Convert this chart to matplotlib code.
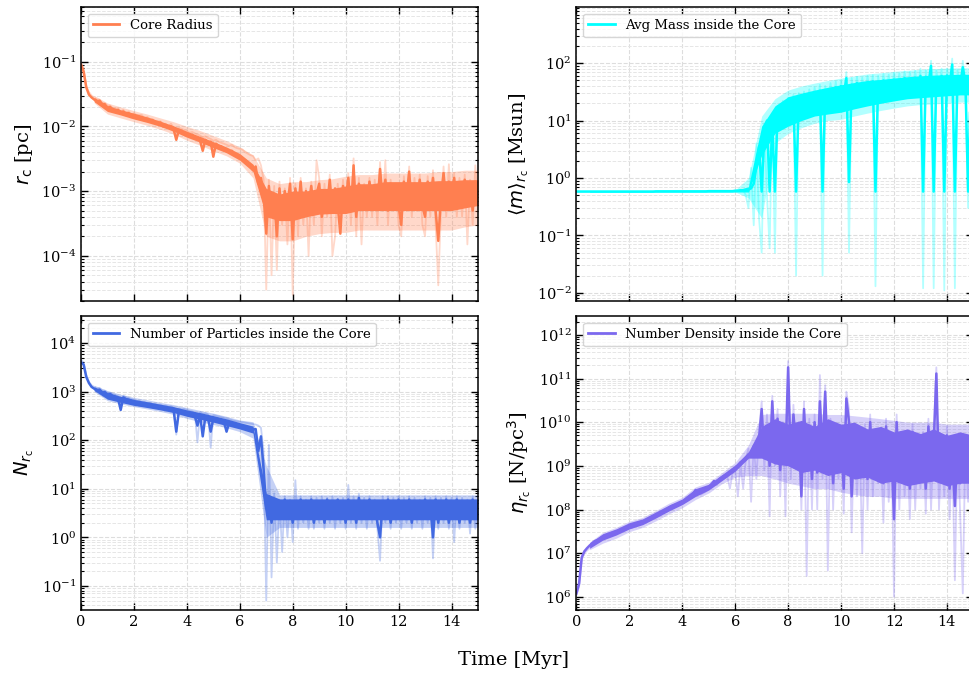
import numpy as np
import matplotlib
matplotlib.use("Agg")
import matplotlib.pyplot as plt

# time grid of the snapshots (Myr)
time = np.linspace(0, 15, 151)
# coarser grid for the spread (envelope) of the noisy band
env_time = np.linspace(0.5, 15, 30)

# core radius [pc] - thick line and faint raw line
rc_main = [
    0.090, 0.070, 0.040, 0.031, 0.028, 0.026, 0.024, 0.025, 0.022, 0.022,
    0.019, 0.020, 0.018, 0.017, 0.018, 0.016, 0.017, 0.015, 0.016, 0.014,
    0.015, 0.0135, 0.014, 0.013, 0.0125, 0.013, 0.012, 0.0125, 0.0115, 0.011,
    0.0115, 0.010, 0.0105, 0.0095, 0.010, 0.009, 0.0062, 0.0088, 0.0085, 0.0080,
    0.0078, 0.0071, 0.0074, 0.0068, 0.0066, 0.0060, 0.0042, 0.0062, 0.0056, 0.0058,
    0.0034, 0.0054, 0.0050, 0.0049, 0.0045, 0.0043, 0.0040, 0.0042, 0.0037, 0.0036,
    0.0034, 0.0032, 0.0030, 0.0028, 0.0025, 0.0021, 0.0024, 0.0013, 0.0016, 0.0009,
    0.00022, 0.0012, 0.0004, 0.0009, 0.0002, 0.0011, 0.0004, 0.0010, 0.0006, 0.0013,
    0.00018, 0.0011, 0.0005, 0.0014, 0.0004, 0.0010, 0.0006, 0.0012, 0.0005, 0.0009,
    0.0013, 0.0004, 0.0010, 0.0006, 0.0015, 0.0005, 0.0011, 0.0006, 0.00022, 0.0012,
    0.0007, 0.0016, 0.0005, 0.0025, 0.0004, 0.0013, 0.0007, 0.0011, 0.0006, 0.0014,
    0.0007, 0.0012, 0.0006, 0.0022, 0.0007, 0.0015, 0.0005, 0.0013, 0.0008, 0.0011,
    0.0006, 0.0003, 0.0014, 0.0008, 0.0020, 0.0006, 0.0013, 0.0007, 0.0015, 0.0006,
    0.0004, 0.0014, 0.0007, 0.0016, 0.0005, 0.00017, 0.0008, 0.0019, 0.0006, 0.0014,
    0.0008, 0.0016, 0.0006, 0.0013, 0.0007, 0.0015, 0.0009, 0.0012, 0.0005, 0.0014,
    0.0009,
]
rc_raw = [
    0.095, 0.080, 0.042, 0.034, 0.030, 0.028, 0.026, 0.026, 0.023, 0.023,
    0.021, 0.021, 0.019, 0.019, 0.019, 0.017, 0.018, 0.016, 0.017, 0.015,
    0.016, 0.015, 0.015, 0.015, 0.013, 0.014, 0.013, 0.013, 0.012, 0.012,
    0.012, 0.011, 0.011, 0.010, 0.011, 0.0095, 0.0090, 0.0095, 0.0092, 0.0088,
    0.0085, 0.0080, 0.0082, 0.0078, 0.0075, 0.0072, 0.0068, 0.0070, 0.0066, 0.0064,
    0.0060, 0.0062, 0.0058, 0.0056, 0.0054, 0.0052, 0.0050, 0.0052, 0.0048, 0.0046,
    0.0045, 0.0044, 0.0040, 0.0038, 0.0036, 0.0035, 0.0030, 0.0032, 0.0025, 0.0015,
    0.00003, 0.0015, 0.00005, 0.0012, 0.00006, 0.0014, 0.0003, 0.0011, 0.00015, 0.0016,
    0.000025, 0.0013, 0.0002, 0.0016, 0.0003, 0.0011, 0.0001, 0.0014, 0.0003, 0.0030,
    0.0016, 0.0002, 0.0013, 0.0004, 0.0018, 0.0001, 0.0002, 0.0013, 0.0004, 0.0015,
    0.0005, 0.0019, 0.0003, 0.0032, 0.0002, 0.0016, 0.00015, 0.0013, 0.0004, 0.0016,
    0.0004, 0.0015, 0.0003, 0.0028, 0.0005, 0.0030, 0.0003, 0.0015, 0.0005, 0.0013,
    0.0003, 0.0002, 0.0017, 0.0005, 0.0024, 0.0004, 0.0016, 0.0005, 0.0018, 0.0003,
    0.0002, 0.0017, 0.0004, 0.0021, 0.0003, 0.000035, 0.0005, 0.0024, 0.0004, 0.0026,
    0.0005, 0.0019, 0.0004, 0.0016, 0.0004, 0.0018, 0.00015, 0.0015, 0.0003, 0.0025,
    0.0006,
]
rc_lo = [0.024, 0.017, 0.015, 0.013, 0.0115, 0.010, 0.0084, 0.0068, 0.0057, 0.0047,
         0.0039, 0.0030, 0.0020, 4e-4, 3.5e-4, 3.5e-4, 4e-4, 4.4e-4, 4.5e-4, 4.5e-4,
         5e-4, 5e-4, 5e-4, 5e-4, 5e-4, 5e-4, 5e-4, 5e-4, 5.5e-4, 6e-4]
rc_hi = [0.028, 0.021, 0.018, 0.016, 0.014, 0.012, 0.0102, 0.0084, 0.0070, 0.0058,
         0.0048, 0.0038, 0.0026, 1.1e-3, 9e-4, 1.0e-3, 1.0e-3, 1.1e-3, 1.1e-3, 1.2e-3,
         1.3e-3, 1.3e-3, 1.4e-3, 1.4e-3, 1.4e-3, 1.4e-3, 1.45e-3, 1.45e-3, 1.5e-3, 1.5e-3]
rc_raw_lo = [0.023, 0.0155, 0.0135, 0.0118, 0.0104, 0.0090, 0.0076, 0.0061, 0.0051, 0.0042,
             0.0035, 0.0027, 0.0016, 2e-4, 1.7e-4, 1.7e-4, 2e-4, 2.2e-4, 2.3e-4, 2.3e-4,
             2.5e-4, 2.5e-4, 2.5e-4, 2.5e-4, 2.5e-4, 2.5e-4, 2.5e-4, 2.5e-4, 2.8e-4, 3e-4]
rc_raw_hi = [0.030, 0.023, 0.020, 0.0175, 0.0155, 0.0135, 0.0118, 0.0100, 0.0086, 0.0072,
             0.0060, 0.0048, 0.0036, 1.6e-3, 1.3e-3, 1.4e-3, 1.4e-3, 1.5e-3, 1.55e-3, 1.7e-3,
             1.8e-3, 1.8e-3, 1.9e-3, 1.9e-3, 1.9e-3, 1.9e-3, 2.0e-3, 2.0e-3, 2.1e-3, 2.1e-3]

# average mass inside the core [Msun]
mass_main = [
    0.58, 0.58, 0.58, 0.58, 0.58, 0.58, 0.58, 0.58, 0.58, 0.58,
    0.58, 0.58, 0.58, 0.58, 0.58, 0.58, 0.58, 0.58, 0.58, 0.58,
    0.58, 0.58, 0.58, 0.58, 0.58, 0.58, 0.58, 0.58, 0.58, 0.58,
    0.585, 0.585, 0.585, 0.585, 0.585, 0.585, 0.585, 0.585, 0.585, 0.585,
    0.585, 0.585, 0.585, 0.585, 0.585, 0.585, 0.585, 0.585, 0.585, 0.585,
    0.59, 0.59, 0.59, 0.59, 0.59, 0.59, 0.59, 0.59, 0.59, 0.59,
    0.60, 0.60, 0.61, 0.61, 0.62, 0.63, 0.66, 0.80, 1.6, 3.5,
    0.58, 6.0, 10.0, 0.58, 9.0, 0.58, 14.0, 11.0, 17.0, 13.0,
    19.0, 15.0, 22.0, 0.58, 23.0, 17.0, 25.0, 19.0, 27.0, 21.0,
    29.0, 22.0, 33.0, 0.58, 30.0, 24.0, 35.0, 26.0, 38.0, 27.0,
    40.0, 28.0, 55.0, 0.85, 42.0, 30.0, 45.0, 31.0, 44.0, 33.0,
    46.0, 33.0, 48.0, 0.58, 47.0, 35.0, 50.0, 36.0, 49.0, 37.0,
    52.0, 38.0, 50.0, 40.0, 55.0, 39.0, 53.0, 41.0, 56.0, 42.0,
    60.0, 0.58, 58.0, 43.0, 90.0, 0.58, 57.0, 44.0, 60.0, 0.58,
    61.0, 42.0, 95.0, 0.58, 58.0, 40.0, 85.0, 45.0, 0.58, 47.0,
    55.0,
]
mass_raw = [
    0.58, 0.58, 0.58, 0.58, 0.58, 0.58, 0.58, 0.58, 0.58, 0.58,
    0.58, 0.58, 0.58, 0.58, 0.58, 0.58, 0.58, 0.58, 0.58, 0.58,
    0.58, 0.58, 0.58, 0.58, 0.58, 0.58, 0.58, 0.58, 0.58, 0.58,
    0.585, 0.585, 0.585, 0.585, 0.585, 0.585, 0.585, 0.585, 0.585, 0.585,
    0.585, 0.585, 0.585, 0.585, 0.585, 0.585, 0.585, 0.585, 0.585, 0.585,
    0.59, 0.59, 0.59, 0.59, 0.59, 0.59, 0.59, 0.59, 0.59, 0.59,
    0.60, 0.61, 0.62, 0.62, 0.50, 0.30, 1.5, 0.15, 4.0, 0.20,
    0.05, 9.0, 0.5, 0.06, 13.0, 0.05, 18.0, 8.0, 22.0, 9.0,
    25.0, 11.0, 28.0, 0.02, 30.0, 13.0, 32.0, 14.0, 35.0, 15.0,
    38.0, 17.0, 42.0, 0.02, 40.0, 18.0, 45.0, 20.0, 48.0, 21.0,
    50.0, 22.0, 70.0, 0.05, 55.0, 24.0, 58.0, 25.0, 56.0, 26.0,
    60.0, 26.0, 62.0, 0.013, 60.0, 28.0, 65.0, 29.0, 63.0, 30.0,
    68.0, 30.0, 66.0, 32.0, 72.0, 31.0, 70.0, 33.0, 74.0, 34.0,
    80.0, 0.012, 76.0, 34.0, 110.0, 0.012, 75.0, 35.0, 80.0, 0.011,
    80.0, 33.0, 120.0, 0.012, 76.0, 32.0, 110.0, 36.0, 0.3, 62.0,
    70.0,
]
mass_lo = [0.57, 0.57, 0.57, 0.57, 0.57, 0.57, 0.57, 0.57, 0.57, 0.57,
           0.57, 0.57, 0.57, 2.5, 6, 8, 10, 12, 13, 14,
           16, 18, 20, 22, 24, 25, 26, 27, 28, 28]
mass_hi = [0.60, 0.60, 0.60, 0.60, 0.60, 0.60, 0.60, 0.60, 0.60, 0.60,
           0.60, 0.61, 0.70, 8, 18, 26, 30, 34, 38, 42,
           46, 50, 52, 55, 58, 60, 62, 63, 64, 64]
mass_raw_lo = [0.57, 0.57, 0.57, 0.57, 0.57, 0.57, 0.57, 0.57, 0.57, 0.57,
               0.57, 0.57, 0.45, 0.2, 4.0, 6, 7.5, 9, 10, 10.5,
               12, 13.5, 15, 16.5, 18, 19, 19.5, 20, 21, 21]
mass_raw_hi = [0.60, 0.60, 0.60, 0.60, 0.60, 0.60, 0.60, 0.60, 0.60, 0.60,
               0.60, 0.62, 1.0, 12, 24, 34, 40, 45, 50, 55,
               60, 65, 68, 72, 75, 78, 80, 82, 83, 83]

# number of particles inside the core
n_main = [
    4000, 3600, 2000, 1500, 1250, 1150, 1050, 1100, 950, 980,
    850, 900, 800, 780, 720, 420, 760, 700, 680, 650,
    620, 580, 600, 540, 560, 520, 540, 500, 510, 480,
    490, 460, 470, 440, 450, 420, 150, 400, 380, 390,
    370, 350, 340, 320, 200, 330, 120, 310, 290, 150,
    280, 270, 260, 250, 240, 150, 230, 220, 210, 200,
    200, 190, 185, 180, 175, 165, 170, 60, 120, 25,
    4, 7, 2, 6, 3, 5, 2.5, 6, 3, 5.5,
    2, 5.5, 3, 6, 2.5, 5, 3, 6, 2, 5,
    3, 5.5, 2, 6, 3, 5, 2.5, 6, 3, 5,
    2, 6, 3, 5.5, 2, 6.5, 3, 5, 2.5, 6,
    3, 5, 2, 1.0, 5.5, 3, 6, 2, 5, 3,
    6, 2.5, 5, 3, 6, 2, 5.5, 3, 5, 2.5,
    6, 3, 5, 1.0, 6, 2, 5.5, 3, 6, 2,
    5, 3, 6, 2, 5.5, 3, 5, 2, 6, 3,
    4,
]
n_raw = [
    4500, 4000, 2200, 1600, 1350, 1250, 1150, 1200, 1050, 1050,
    950, 950, 880, 850, 800, 600, 820, 770, 740, 700,
    680, 640, 650, 600, 610, 570, 590, 550, 560, 530,
    540, 510, 520, 490, 500, 470, 130, 450, 430, 440,
    420, 400, 390, 370, 90, 380, 350, 360, 340, 70,
    330, 320, 310, 300, 290, 280, 270, 260, 250, 245,
    240, 235, 230, 225, 220, 215, 210, 200, 180, 60,
    0.05, 80, 0.15, 8, 0.3, 6, 0.5, 7, 1.0, 6,
    0.8, 15, 1.5, 7, 2, 6, 1.5, 7, 1.5, 6.5,
    2, 7, 1.5, 6.5, 2, 7, 1.5, 6, 2, 6.5,
    1.5, 12, 2, 7, 1.5, 8, 2, 6.5, 1.5, 7,
    2, 6, 1.5, 0.33, 7, 2, 7, 1.5, 6.5, 2,
    7, 1.5, 6.5, 2, 7, 1.5, 6.5, 2, 6, 1.5,
    7, 2, 6.5, 0.37, 7, 1.5, 6.5, 2, 7, 1.5,
    6.5, 0.8, 7, 1.5, 6.5, 2, 6, 1.2, 7, 1.5,
    5,
]
n_lo = [1050, 700, 600, 520, 470, 420, 370, 310, 270, 235,
        200, 170, 140, 2.3, 2.3, 2.3, 2.3, 2.3, 2.3, 2.3,
        2.3, 2.3, 2.3, 2.3, 2.3, 2.3, 2.3, 2.3, 2.3, 2.3]
n_hi = [1250, 950, 800, 690, 620, 550, 490, 420, 370, 320,
        275, 230, 195, 8, 6.2, 6.2, 6.2, 6.2, 6.2, 6.2,
        6.2, 6.2, 6.2, 6.2, 6.2, 6.2, 6.2, 6.2, 6.2, 6.2]
n_raw_lo = [1000, 650, 560, 490, 440, 390, 340, 280, 240, 210,
            180, 150, 110, 1.0, 1.6, 1.6, 1.6, 1.6, 1.6, 1.6,
            1.6, 1.6, 1.6, 1.6, 1.6, 1.6, 1.6, 1.6, 1.6, 1.6]
n_raw_hi = [1350, 1050, 880, 760, 680, 600, 540, 470, 410, 360,
            310, 260, 240, 30, 7.5, 7.5, 7.5, 7.5, 7.5, 7.5,
            7.5, 7.5, 7.5, 7.5, 7.5, 7.5, 7.5, 7.5, 7.5, 7.5]

# number density inside the core [N/pc^3]
eta_main = [
    1.2e6, 2.0e6, 8e6, 1.1e7, 1.3e7, 1.5e7, 1.7e7, 1.9e7, 2.0e7, 2.2e7,
    2.4e7, 2.5e7, 2.7e7, 2.8e7, 3.0e7, 3.1e7, 3.3e7, 3.5e7, 3.7e7, 4.0e7,
    4.3e7, 4.2e7, 4.6e7, 4.8e7, 5.0e7, 5.3e7, 5.6e7, 6.0e7, 6.5e7, 7.0e7,
    7.6e7, 8.0e7, 8.5e7, 9.2e7, 1.0e8, 1.1e8, 1.2e8, 1.25e8, 1.3e8, 1.4e8,
    1.5e8, 1.6e8, 1.8e8, 2.0e8, 2.2e8, 2.8e8, 2.6e8, 2.4e8, 2.7e8, 3.0e8,
    3.3e8, 3.8e8, 4.5e8, 4.0e8, 5.0e8, 5.5e8, 6.0e8, 6.5e8, 7.0e8, 8.0e8,
    9.0e8, 1.0e9, 1.2e9, 1.3e9, 1.5e9, 1.8e9, 2.0e9, 2.6e9, 3.2e9, 4.0e9,
    2e10, 1.5e9, 8e9, 1e9, 3e10, 2e9, 1.2e10, 8e8, 6e9, 1.5e9,
    1.8e11, 1e9, 1.5e10, 3e9, 7e9, 2e8, 2e10, 1.5e9, 8e9, 5e8,
    1e10, 7e8, 3e10, 2e9, 5e10, 1e9, 8e9, 4e8, 6e9, 1.5e9,
    4e9, 3e8, 3.5e10, 1e10, 2e8, 5e9, 8e8, 3e9, 1.5e9, 6e9,
    5e8, 1e10, 8e8, 4e9, 1.2e9, 2e9, 4e8, 8e9, 6e8, 3e9,
    6e7, 1e10, 5e8, 4e9, 8e8, 2e9, 3e8, 6e9, 5e8, 3e9,
    1e9, 4e9, 3e8, 8e9, 6e8, 3e9, 1.3e11, 5e8, 2e9, 7e8,
    5e9, 3e8, 2e9, 1.2e8, 3e9, 4e8, 8e8, 3e9, 6e8, 2e9,
    1e9,
]
eta_raw = [
    1.1e6, 1.7e6, 7e6, 1.0e7, 1.15e7, 1.3e7, 1.5e7, 1.7e7, 1.8e7, 2.0e7,
    2.2e7, 2.3e7, 2.5e7, 2.6e7, 2.8e7, 2.9e7, 3.1e7, 3.2e7, 3.4e7, 3.6e7,
    4.0e7, 3.8e7, 4.2e7, 4.4e7, 4.6e7, 4.9e7, 5.2e7, 5.5e7, 6.0e7, 6.4e7,
    7.0e7, 7.3e7, 7.8e7, 8.5e7, 9.2e7, 1.0e8, 1.1e8, 1.15e8, 1.2e8, 1.3e8,
    1.4e8, 1.5e8, 1.65e8, 1.8e8, 2.0e8, 2.4e8, 2.3e8, 2.2e8, 2.4e8, 2.6e8,
    3.0e8, 3.4e8, 4.0e8, 3.6e8, 4.5e8, 5.0e8, 5.4e8, 5.8e8, 3e8, 7.0e8,
    8.0e8, 2e8, 1.1e9, 3e8, 1.4e9, 2.5e9, 1.5e8, 3e9, 5e8, 6e9,
    3e10, 8e8, 1.5e10, 7e7, 4e10, 1e9, 2e10, 2e8, 1e10, 7e7,
    2.5e11, 5e8, 2.5e10, 1e9, 1e10, 1e8, 3e10, 3e6, 1.2e10, 1e8,
    1.5e10, 1e8, 1.2e11, 5e8, 7e10, 4e6, 1.2e10, 1e8, 8e9, 5e8,
    6e9, 8e7, 5e10, 2e10, 3e7, 8e9, 2e8, 5e9, 1e7, 9e9,
    1e8, 1.5e10, 2e8, 6e9, 4e8, 3e9, 5e7, 1.2e10, 1.5e8, 5e9,
    1e6, 1.5e10, 1e8, 6e9, 2e8, 3e9, 6e7, 9e9, 1e8, 5e9,
    3e8, 6e9, 8e7, 1.2e10, 1e8, 5e9, 1.8e11, 1e8, 3e9, 2e8,
    8e9, 6e7, 3e9, 2.4e6, 5e9, 8e7, 1.2e6, 5e9, 1.5e8, 3e9,
    2e9,
]
eta_lo = [1.3e7, 2.0e7, 2.6e7, 3.6e7, 4.5e7, 6.4e7, 9.3e7, 1.3e8, 2.0e8, 2.8e8,
          4.6e8, 7.6e8, 1.5e9, 1.5e9, 1.1e9, 1e9, 7e8, 8e8, 6e8, 7e8,
          5e8, 5.5e8, 4e8, 4.5e8, 3.5e8, 4e8, 4.5e8, 3.5e8, 4e8, 4e8]
eta_hi = [1.7e7, 2.8e7, 3.6e7, 5.0e7, 6.1e7, 8.8e7, 1.27e8, 1.75e8, 3.0e8, 3.8e8,
          6.3e8, 1.05e9, 2.1e9, 8e9, 1.2e10, 9e9, 1.1e10, 8e9, 1.2e10, 9e9,
          1e10, 7e9, 8e9, 6e9, 7e9, 5.5e9, 7e9, 5e9, 6e9, 5e9]
eta_raw_lo = [1.2e7, 1.7e7, 2.2e7, 3.1e7, 3.9e7, 5.5e7, 8e7, 1.1e8, 1.7e8, 2.4e8,
              3.9e8, 5.5e8, 6e8, 6e8, 5e8, 4e8, 3.5e8, 3e8, 3e8, 2.5e8,
              2.2e8, 2e8, 2e8, 1.8e8, 1.8e8, 1.8e8, 1.8e8, 1.8e8, 1.8e8, 1.8e8]
eta_raw_hi = [1.8e7, 3.0e7, 3.9e7, 5.4e7, 6.6e7, 9.5e7, 1.4e8, 1.9e8, 3.3e8, 4.2e8,
              7e8, 1.2e9, 3e9, 1.5e10, 1.6e10, 1.6e10, 1.6e10, 1.6e10, 1.5e10, 1.5e10,
              1.4e10, 1.3e10, 1.2e10, 1.1e10, 1e10, 1e10, 1e10, 9e9, 9e9, 9e9]

plt.rcParams['font.family'] = 'DejaVu Serif'
plt.rcParams['mathtext.fontset'] = 'dejavusans'

panels = [
    dict(main=rc_main, raw=rc_raw, lo=rc_lo, hi=rc_hi, rlo=rc_raw_lo, rhi=rc_raw_hi,
         color='coral', label='Core Radius', ylabel=r'$r_\mathrm{c}$ [pc]',
         ylim=(2e-5, 0.7), yticks=[1e-4, 1e-3, 1e-2, 1e-1]),
    dict(main=mass_main, raw=mass_raw, lo=mass_lo, hi=mass_hi, rlo=mass_raw_lo,
         rhi=mass_raw_hi, color='cyan', label='Avg Mass inside the Core',
         ylabel=r'$\langle m \rangle_{r_\mathrm{c}}$ [Msun]',
         ylim=(0.0072, 950), yticks=[1e-2, 1e-1, 1e0, 1e1, 1e2]),
    dict(main=n_main, raw=n_raw, lo=n_lo, hi=n_hi, rlo=n_raw_lo, rhi=n_raw_hi,
         color='royalblue', label='Number of Particles inside the Core',
         ylabel=r'$N_{r_\mathrm{c}}$', ylim=(0.032, 3.6e4),
         yticks=[1e-1, 1e0, 1e1, 1e2, 1e3, 1e4]),
    dict(main=eta_main, raw=eta_raw, lo=eta_lo, hi=eta_hi, rlo=eta_raw_lo,
         rhi=eta_raw_hi, color='mediumslateblue',
         label='Number Density inside the Core',
         ylabel=r'$\eta_{r_\mathrm{c}}$ [N/pc$^3$]', ylim=(5e5, 2.7e12),
         yticks=[1e6, 1e7, 1e8, 1e9, 1e10, 1e11, 1e12]),
]

fig, axes = plt.subplots(2, 2, figsize=(9.7, 6.75), dpi=100, sharex=True)
fig.subplots_adjust(left=0.0835, right=1.0035, top=0.9896, bottom=0.0963,
                    wspace=0.248, hspace=0.051)

for ax, p in zip(axes.flat, panels):
    c = p['color']
    ax.set_axisbelow(True)  # keep grid under the data
    # faint raw data
    ax.fill_between(env_time, p['rlo'], p['rhi'], color=c, alpha=0.3, lw=0)
    ax.plot(time, p['raw'], color=c, alpha=0.3, lw=1.3)
    # main series
    ax.fill_between(env_time, p['lo'], p['hi'], color=c, lw=0)
    ax.plot(time, p['main'], color=c, lw=1.8, label=p['label'])
    ax.set_yscale('log')
    ax.set_xlim(0, 15)
    ax.set_yticks(p['yticks'])
    ax.set_ylim(*p['ylim'])
    ax.set_ylabel(p['ylabel'], fontsize=14)
    ax.set_xticks(np.arange(0, 16, 2))
    ax.tick_params(which='both', direction='in', top=True, right=True, labelsize=10.5)
    ax.tick_params(which='major', length=5, width=1)
    ax.tick_params(which='minor', length=2.5, width=0.8)
    ax.grid(True, which='major', ls='--', color='#dddddd', lw=0.8)
    ax.grid(True, which='minor', axis='y', ls='--', color='#e6e6e6', lw=0.7)
    for s in ax.spines.values():
        s.set_linewidth(1.1)
    leg = ax.legend(loc='upper left', fontsize=9.5, fancybox=True, framealpha=0.8,
                    edgecolor='#cccccc')
    for h in leg.get_lines():
        h.set_linewidth(2.0)

fig.text(513 / 970, 1 - 660 / 675, 'Time [Myr]', ha='center', va='center', fontsize=14)

fig.savefig('out.png', dpi=100)
